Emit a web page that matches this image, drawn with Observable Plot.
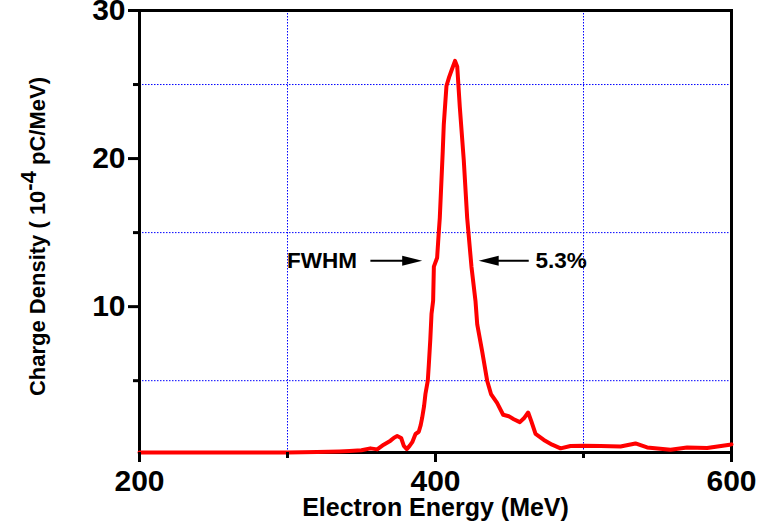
<!DOCTYPE html>
<html>
<head>
<meta charset="utf-8">
<script src="https://cdn.jsdelivr.net/npm/d3@7"></script>
<script src="https://cdn.jsdelivr.net/npm/@observablehq/plot@0.6"></script>
<style>
  body { margin: 0; background: #fff; }
  #chart svg { display: block; }
</style>
</head>
<body>
<div id="chart"></div>
<script>
// ---- data ----
const energy = [200, 250, 300, 320, 335, 342, 350, 356, 360.6, 365, 369.6, 372, 374.1, 376.8, 378.6, 380.6, 382.5, 384.3, 386.5, 388.7, 390, 391, 392.3, 393.2, 394.8, 395.5, 396.5, 397.3, 398.4, 398.9, 401.1, 402.2, 402.9, 404.9, 405.6, 407.4, 409.2, 411, 413.2, 414.7, 416.4, 419.1, 421.4, 424.3, 427, 428.2, 431.5, 434.9, 437.5, 441.6, 445.7, 449.5, 452.9, 457, 460.1, 462.6, 464.6, 467.6, 473.2, 478.8, 484.5, 491.2, 500.2, 511.5, 525, 535.1, 543, 558.8, 570, 583.5, 598.8, 600];
const density = [0.15, 0.15, 0.15, 0.18, 0.22, 0.25, 0.3, 0.43, 0.36, 0.68, 0.95, 1.15, 1.26, 1.13, 0.6, 0.38, 0.6, 0.85, 1.4, 1.55, 2.0, 2.5, 3.3, 4.1, 5.0, 6.1, 7.8, 9.5, 10.4, 12.7, 13.3, 15.0, 16.0, 20.5, 22.3, 24.9, 25.5, 26.0, 26.6, 26.2, 23.5, 19.9, 16.0, 12.7, 10.4, 8.8, 7.0, 5.0, 4.1, 3.5, 2.7, 2.6, 2.4, 2.2, 2.5, 2.85, 2.3, 1.4, 1.0, 0.68, 0.43, 0.59, 0.61, 0.59, 0.56, 0.76, 0.49, 0.34, 0.49, 0.45, 0.68, 0.7];

const majorXTicks = [200, 400, 600];
const minorXTicks = [300, 500];
const majorYTicks = [10, 20, 30];
const minorYTicks = [5, 15, 25];

const xTitle = "Electron Energy (MeV)";
const yTitleParts = ["Charge Density ( 10", "-4", " pC/MeV)"];
const leftLabel = "FWHM";
const rightLabel = "5.3%";

// annotation anchors (data coordinates)
const annotY = 13.1;
const leftArrow = {tail: 356, tip: 391};
const rightArrow = {tail: 463, tip: 429.2};
const leftLabelX = 347;
const rightLabelX = 467.5;

// ---- build ----
const data = energy.map((x, i) => ({x, y: density[i]}));
const yTitle = yTitleParts.join("");

const headRight = {draw(ctx) { ctx.moveTo(0, 0); ctx.lineTo(-20, -5); ctx.lineTo(-20, 5); ctx.closePath(); }};
const headLeft = {draw(ctx) { ctx.moveTo(0, 0); ctx.lineTo(20, -5); ctx.lineTo(20, 5); ctx.closePath(); }};

const grid = {stroke: "#0000ff", strokeOpacity: 1, strokeWidth: 1, strokeDasharray: "1.5,1.5"};
const font = "'Liberation Sans', Arial, Helvetica, sans-serif";

const chart = Plot.plot({
  width: 775,
  height: 521,
  marginTop: 10,
  marginBottom: 69,
  marginLeft: 139,
  marginRight: 44,
  style: {fontFamily: font, fontWeight: "bold", background: "#fff", color: "#000"},
  x: {domain: [200, 600]},
  y: {domain: [0.15, 30]},
  marks: [
    Plot.gridX(minorXTicks, grid),
    Plot.gridY(minorYTicks, grid),
    Plot.frame({stroke: "#000", strokeWidth: 3}),
    Plot.line(data, {x: "x", y: "y", stroke: "#ff0000", strokeWidth: 4, strokeLinejoin: "round"}),
    Plot.axisX(majorXTicks, {tickSize: 10, tickPadding: 7, strokeWidth: 3, fontSize: 30, fontWeight: "bold", label: null}),
    Plot.axisX(minorXTicks, {tickSize: 6, tickFormat: () => "", strokeWidth: 3, label: null}),
    Plot.axisY(majorYTicks, {tickSize: 11, tickPadding: 3, strokeWidth: 3, fontSize: 30, fontWeight: "bold", label: null}),
    Plot.axisY(minorYTicks, {tickSize: 6, tickFormat: () => "", strokeWidth: 3, label: null}),
    Plot.text([xTitle], {frameAnchor: "bottom", dy: 55, textAnchor: "middle", lineAnchor: "middle", fontSize: 25, fontWeight: "bold"}),
    Plot.text([yTitle], {frameAnchor: "left", dx: -102, dy: 5, rotate: -90, textAnchor: "middle", lineAnchor: "middle", fontSize: 22, fontWeight: "bold"}),
    // FWHM annotation
    Plot.link([leftArrow, rightArrow], {x1: "tail", x2: d => d.tip + (d.tip > d.tail ? -6 : 6), y1: annotY, y2: annotY, stroke: "#000", strokeWidth: 2}),
    Plot.dot([leftArrow], {x: "tip", y: annotY, symbol: headRight, fill: "#000", stroke: "none"}),
    Plot.dot([rightArrow], {x: "tip", y: annotY, symbol: headLeft, fill: "#000", stroke: "none"}),
    Plot.text([leftLabel], {x: leftLabelX, y: annotY, textAnchor: "end", fontSize: 22.5, fontWeight: "bold"}),
    Plot.text([rightLabel], {x: rightLabelX, y: annotY, textAnchor: "start", fontSize: 22.5, fontWeight: "bold"})
  ]
});

// superscript in the y title (baseline-shift keeps the text one anchored chunk)
d3.select(chart).selectAll("text").filter(function() { return this.textContent === yTitle; }).each(function() {
  const t = d3.select(this);
  t.text(null);
  t.append("tspan").text(yTitleParts[0]);
  t.append("tspan").attr("baseline-shift", "9px").text(yTitleParts[1]);
  t.append("tspan").text(yTitleParts[2]);
});

document.getElementById("chart").appendChild(chart);
</script>
</body>
</html>
